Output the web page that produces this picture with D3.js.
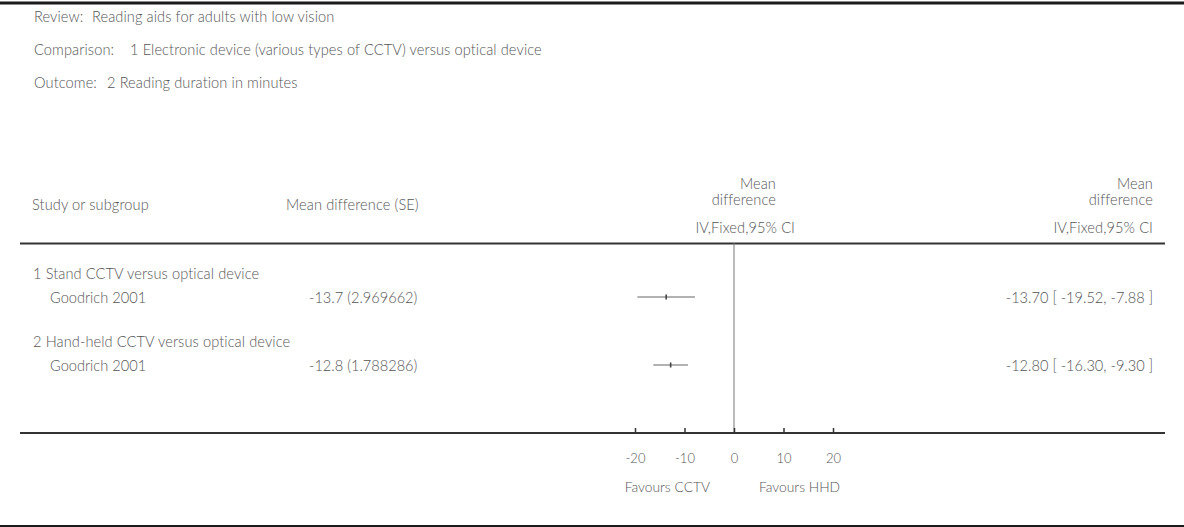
<!DOCTYPE html>
<html>
<head>
<meta charset="utf-8">
<script src="https://cdn.jsdelivr.net/npm/d3@7"></script>
<style>
  body { margin: 0; background: #fff; }
  svg text { font-family: Lato, "Open Sans", sans-serif; font-weight: 300; fill: #555; }
</style>
</head>
<body>
<div id="chart"></div>
<script>
// header info
const infoLabels = ["Review:", "Comparison:", "Outcome:"];
const infoValues = [
  "Reading aids for adults with low vision",
  "1 Electronic device (various types of CCTV) versus optical device",
  "2 Reading duration in minutes"
];

// rows
const subgroups = ["1 Stand CCTV versus optical device", "2 Hand-held CCTV versus optical device"];
const studies = ["Goodrich 2001", "Goodrich 2001"];
const meanDiff = [-13.7, -12.8];
const seText = ["2.969662", "1.788286"];
const ciLow = [-19.52, -16.30];
const ciHigh = [-7.88, -9.30];

const xTicks = [-20, -10, 0, 10, 20];
const favours = ["Favours CCTV", "Favours HHD"];

const W = 1184, H = 527;
const fs = 14.6;

const svg = d3.select('#chart')
  .append('svg')
  .attr('width', W)
  .attr('height', H);

const x = d3.scaleLinear().domain([-20, 20]).range([635, 833]);

// frame lines
svg.append('line').attr('x1', 0).attr('x2', W).attr('y1', 3).attr('y2', 3)
  .attr('stroke', '#1a1a1a').attr('stroke-width', 3);
svg.append('line').attr('x1', 20).attr('x2', 1165).attr('y1', 243.5).attr('y2', 243.5)
  .attr('stroke', '#333').attr('stroke-width', 2);
svg.append('line').attr('x1', 0).attr('x2', W).attr('y1', 526).attr('y2', 526)
  .attr('stroke', '#1a1a1a').attr('stroke-width', 2);

// header info, value column a bit off the label like the original
const infoValueX = [92, 130, 107];
const info = svg.append('g').attr('class', 'info')
  .style('font-size', fs + 'px').style('letter-spacing', '0.1px');
infoLabels.forEach((lab, i) => {
  const yy = 17 + i * 33;
  info.append('text').attr('x', 34).attr('y', yy).attr('dy', '0.35em').text(lab);
  info.append('text').attr('x', infoValueX[i]).attr('y', yy).attr('dy', '0.35em').text(infoValues[i]);
});

// column headers
const hdr = svg.append('g').attr('class', 'headers')
  .style('font-size', fs + 'px').style('letter-spacing', '0.1px');
hdr.append('text').attr('x', 32).attr('y', 205).attr('dy', '0.35em').text('Study or subgroup');
hdr.append('text').attr('x', 286).attr('y', 205).attr('dy', '0.35em').text('Mean difference (SE)');
[776, 1153].forEach(rx => {
  hdr.append('text').attr('x', rx).attr('y', 184).attr('dy', '0.35em')
    .attr('text-anchor', 'end').text('Mean');
  hdr.append('text').attr('x', rx).attr('y', 200).attr('dy', '0.35em')
    .attr('text-anchor', 'end').text('difference');
});
hdr.append('text').attr('x', 795).attr('y', 228).attr('dy', '0.35em')
  .attr('text-anchor', 'end').text('IV,Fixed,95% CI');
hdr.append('text').attr('x', 1153).attr('y', 228).attr('dy', '0.35em')
  .attr('text-anchor', 'end').text('IV,Fixed,95% CI');

// zero line
svg.append('line')
  .attr('x1', x(0)).attr('x2', x(0))
  .attr('y1', 243).attr('y2', 433)
  .attr('stroke', '#777').attr('stroke-width', 1);

// rows
const rows = svg.append('g').attr('class', 'rows').style('font-size', fs + 'px');
const rowTop = [274, 342];
const rowStudy = [298, 366];

subgroups.forEach((s, i) => {
  rows.append('text').attr('x', 33).attr('y', rowTop[i]).attr('dy', '0.35em')
    .style('letter-spacing', '0.1px').text(s);
  rows.append('text').attr('x', 50).attr('y', rowStudy[i]).attr('dy', '0.35em').text(studies[i]);
  rows.append('text').attr('x', 309).attr('y', rowStudy[i]).attr('dy', '0.35em')
    .text(meanDiff[i].toFixed(1) + ' (' + seText[i] + ')');
  rows.append('text').attr('x', 1153).attr('y', rowStudy[i]).attr('dy', '0.35em')
    .attr('text-anchor', 'end')
    .text(meanDiff[i].toFixed(2) + ' [ ' + ciLow[i].toFixed(2) + ', ' + ciHigh[i].toFixed(2) + ' ]');

  rows.append('line')
    .attr('x1', x(ciLow[i])).attr('x2', x(ciHigh[i]))
    .attr('y1', rowStudy[i] - 1).attr('y2', rowStudy[i] - 1)
    .attr('stroke', '#666').attr('stroke-width', 1.2);
  rows.append('rect')
    .attr('x', x(meanDiff[i]) - 0.8).attr('y', rowStudy[i] - 3.5)
    .attr('width', 1.6).attr('height', 5)
    .attr('fill', '#444');
});

// axis
svg.append('line').attr('x1', 20).attr('x2', 1165).attr('y1', 433).attr('y2', 433)
  .attr('stroke', '#333').attr('stroke-width', 2);

const axis = svg.append('g')
  .attr('transform', 'translate(0,433)')
  .call(d3.axisBottom(x).tickValues(xTicks).tickSize(-5).tickPadding(21).tickFormat(d3.format('d')));
axis.select('.domain').remove();
axis.selectAll('.tick line').attr('stroke', '#333').attr('stroke-width', 1.5);
axis.selectAll('.tick text')
  .style('font-family', 'Lato, "Open Sans", sans-serif')
  .style('font-size', '13px')
  .style('font-weight', 300)
  .attr('fill', '#555')
  .text(d => d < 0 ? '-' + Math.abs(d) : d);

svg.append('text').attr('x', x(0) - 24).attr('y', 487).attr('dy', '0.35em')
  .attr('text-anchor', 'end').style('font-size', '13.8px').text(favours[0]);
svg.append('text').attr('x', x(0) + 25).attr('y', 487).attr('dy', '0.35em')
  .attr('text-anchor', 'start').style('font-size', '13.8px').text(favours[1]);
</script>
</body>
</html>
